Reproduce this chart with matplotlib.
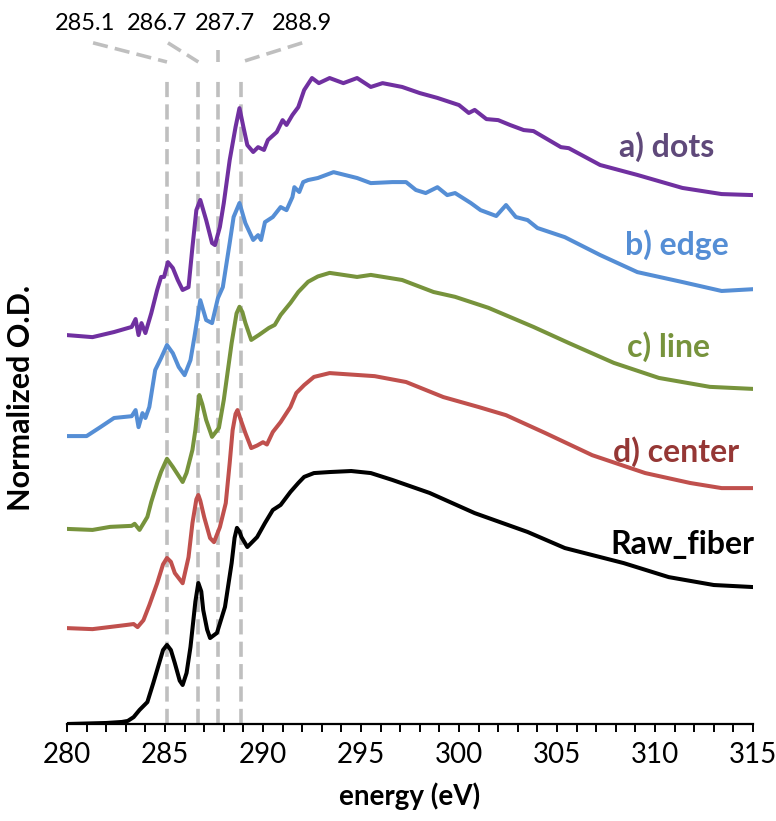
import matplotlib
matplotlib.use("Agg")
import matplotlib.pyplot as plt
from matplotlib.ticker import MultipleLocator

# ---------------- data: C K-edge NEXAFS spectra (normalized O.D.) ----------------
raw_energy = [280.0, 281.0, 282.0, 282.8, 283.1, 283.4, 283.7, 284.1, 284.4, 284.6, 284.9,
              285.1, 285.3, 285.5, 285.75, 285.9, 286.1, 286.3, 286.55, 286.7, 286.85,
              286.95, 287.15, 287.3, 287.65, 288.06, 288.4, 288.55,
              288.67, 288.8, 288.9, 289.2, 289.7, 290.1, 290.5, 290.9, 291.4, 291.8, 292.1,
              292.6, 293.4, 294.5, 295.5, 296.6, 298.5, 300.8, 303.5, 305.4, 308.4,
              310.7, 313.0, 315.0]
raw_od = [0.000, 0.002, 0.004, 0.008, 0.012, 0.027, 0.055, 0.086, 0.160, 0.212, 0.290,
          0.310, 0.290, 0.239, 0.170, 0.153, 0.200, 0.302, 0.480, 0.553, 0.520,
          0.447, 0.370, 0.337, 0.357, 0.459, 0.631, 0.730,
          0.769, 0.755, 0.733, 0.694, 0.733, 0.788, 0.839, 0.859, 0.910, 0.945, 0.969,
          0.984, 0.988, 0.992, 0.984, 0.957, 0.906, 0.827, 0.753, 0.690, 0.631,
          0.576, 0.545, 0.537]

center_energy = [280.0, 281.3, 283.0, 283.4, 283.6, 283.9, 284.2, 284.6, 284.9, 285.1, 285.3,
                 285.5, 285.9, 286.2, 286.4, 286.6, 286.7, 286.8, 287.0, 287.3, 287.5, 287.8,
                 288.1, 288.3, 288.45, 288.6, 288.7, 288.85, 289.1, 289.4, 289.7, 290.0, 290.2,
                 290.5, 290.9, 291.4, 291.7, 292.1, 292.6, 293.4, 295.7, 297.3, 299.2, 301.0,
                 302.4, 304.4, 306.8, 309.5, 311.8, 313.4, 315.0]
center_od = [0.000, -0.004, 0.012, 0.016, 0.004, 0.031, 0.090, 0.176, 0.250, 0.275, 0.260,
             0.216, 0.176, 0.278, 0.412, 0.505, 0.522, 0.500, 0.435, 0.353, 0.337, 0.396,
             0.490, 0.647, 0.776, 0.840, 0.855, 0.820, 0.765, 0.706, 0.716, 0.729, 0.720,
             0.769, 0.808, 0.867, 0.922, 0.953, 0.985, 1.000, 0.988, 0.965, 0.906, 0.867,
             0.835, 0.765, 0.678, 0.608, 0.569, 0.549, 0.549]

line_energy = [280.0, 281.3, 282.2, 283.3, 283.45, 283.7, 284.1, 284.3, 284.6, 284.8,
               285.1, 285.4, 285.9, 286.1, 286.4, 286.55, 286.75, 286.9, 287.1, 287.4, 287.75,
               288.0, 288.4, 288.65, 288.8, 288.95, 289.1, 289.4, 289.8, 290.3, 290.6, 290.9,
               291.4, 291.8, 292.3, 292.8, 293.4, 294.8, 295.5, 297.1, 298.7, 299.8, 301.5,
               303.8, 305.6, 307.9, 310.2, 312.8, 315.0]
line_od = [0.000, -0.004, 0.008, 0.012, 0.020, -0.004, 0.047, 0.106, 0.180, 0.224,
           0.275, 0.243, 0.184, 0.220, 0.310, 0.388, 0.525, 0.490, 0.427, 0.361, 0.396,
           0.506, 0.729, 0.845, 0.871, 0.850, 0.808, 0.741, 0.761, 0.788, 0.800, 0.839,
           0.886, 0.929, 0.969, 0.990, 1.004, 0.988, 0.996, 0.976, 0.929, 0.910, 0.867,
           0.792, 0.729, 0.651, 0.592, 0.557, 0.549]

edge_energy = [280.0, 281.0, 281.7, 282.4, 283.3, 283.5, 283.65, 283.85, 284.0, 284.2,
               284.5, 284.8, 285.1, 285.4, 285.7, 286.0, 286.3, 286.5, 286.8, 287.1,
               287.4, 287.7, 287.95, 288.3, 288.5, 288.8, 289.1, 289.5, 289.75, 289.9,
               290.1, 290.5, 290.9, 291.2, 291.5, 291.6, 291.85, 292.05, 292.3, 292.8,
               293.6, 294.8, 295.5, 296.6, 297.3, 297.8, 298.3, 298.9, 299.4, 299.8,
               300.6, 301.1, 301.9, 302.4, 302.9, 303.5, 304.0, 305.4, 307.2, 309.1,
               311.4, 313.4, 315.0]
edge_od = [0.000, 0.000, 0.035, 0.071, 0.078, 0.102, 0.035, 0.090, 0.071, 0.114,
           0.259, 0.306, 0.357, 0.325, 0.271, 0.239, 0.298, 0.388, 0.533, 0.455,
           0.443, 0.541, 0.584, 0.757, 0.859, 0.914, 0.835, 0.769, 0.788, 0.769,
           0.839, 0.859, 0.898, 0.886, 0.937, 0.976, 0.957, 0.996, 1.004, 1.012,
           1.035, 1.012, 0.992, 0.996, 0.996, 0.965, 0.953, 0.976, 0.945, 0.953,
           0.914, 0.886, 0.863, 0.906, 0.859, 0.847, 0.816, 0.780, 0.710, 0.643,
           0.604, 0.569, 0.576]

dots_energy = [280.0, 281.3, 282.4, 283.3, 283.5, 283.65, 283.8, 284.0, 284.3, 284.6,
               284.8, 284.95, 285.15, 285.4, 285.65, 285.9, 286.2, 286.4, 286.6, 286.8,
               287.1, 287.4, 287.55, 287.8, 288.0, 288.3, 288.6, 288.8, 289.0, 289.2,
               289.5, 289.75, 290.05, 290.25, 290.7, 291.0, 291.2, 291.5, 291.8, 292.1,
               292.5, 292.85, 293.4, 294.1, 294.8, 295.5, 296.1, 297.1, 298.0, 298.9,
               300.0, 300.5, 300.8, 301.4, 302.0, 302.6, 303.3, 303.8, 304.4, 305.2,
               305.6, 307.2, 309.1, 311.4, 313.4, 315.0]
dots_od = [-0.008, -0.016, 0.004, 0.024, 0.055, -0.008, 0.039, 0.000, 0.078, 0.169,
           0.220, 0.220, 0.278, 0.255, 0.208, 0.169, 0.180, 0.337, 0.482, 0.522,
           0.443, 0.353, 0.345, 0.416, 0.510, 0.678, 0.808, 0.882, 0.808, 0.737,
           0.710, 0.729, 0.718, 0.757, 0.788, 0.835, 0.816, 0.855, 0.886, 0.953,
           1.000, 0.980, 1.000, 0.980, 1.000, 0.965, 0.980, 0.965, 0.941, 0.922,
           0.894, 0.863, 0.875, 0.839, 0.835, 0.816, 0.796, 0.792, 0.765, 0.729,
           0.725, 0.659, 0.620, 0.569, 0.545, 0.541]

series_names = ["a) dots", "b) edge", "c) line", "d) center", "Raw_fiber"]
series_energy = [dots_energy, edge_energy, line_energy, center_energy, raw_energy]
series_od = [dots_od, edge_od, line_od, center_od, raw_od]
stack_offsets = [1.533, 1.129, 0.765, 0.376, 0.0]

line_colors = ["#7030A0", "#558ED5", "#77933C", "#C0504D", "#000000"]
label_colors = ["#5F497A", "#558ED5", "#77933C", "#953735", "#000000"]

# characteristic transition energies (eV)
peak_energies = [285.1, 286.7, 287.7, 288.9]
peak_labels = ["285.1", "286.7", "287.7", "288.9"]

# ---------------- figure ----------------
plt.rcParams["font.family"] = ["Lato", "DejaVu Sans"]
fig = plt.figure(figsize=(7.76, 8.21), dpi=100)
ax = fig.add_axes([67 / 776, 97 / 821, 686 / 776, 724 / 821])
ax.set_xlim(280, 315)
ax.set_ylim(0, 2.839)

# guide lines for the transitions, with leaders up to their labels
grey = "#BFBFBF"
label_x = [280.92, 284.59, 288.06, 292.0]
leader_x = [281.33, 285.15, 287.7, 292.0]
leader_y = [2.671, 2.671, 2.643, 2.671]
top_y = 2.576
dash = (4.2, 2.0)
for e, lx, ly, tx, txt in zip(peak_energies, leader_x, leader_y, label_x, peak_labels):
    ax.plot([e, e], [0, top_y - 0.03], color=grey, lw=2.6, dashes=dash,
            dash_capstyle="butt", zorder=1, clip_on=False)
    ax.plot([lx, e], [ly, top_y + 0.02], color=grey, lw=2.6, dashes=dash,
            dash_capstyle="butt", zorder=1, clip_on=False)
    ax.text(tx, 2.745, txt, ha="center", va="center", fontsize=17, color="#000000")

label_pos = [(310.6, 2.265), (311.1, 1.880), (310.7, 1.480), (311.1, 1.067), (311.4, 0.702)]
for name, en, od, off, c, lc, (px, py) in zip(series_names, series_energy, series_od,
                                                 stack_offsets, line_colors, label_colors,
                                                 label_pos):
    ax.plot(en, [v + off for v in od], color=c, lw=2.9, solid_joinstyle="round",
            solid_capstyle="round", zorder=3)
    ax.text(px, py, name, color=lc, fontsize=23, fontweight="bold",
            ha="center", va="center")

# axes styling
for side in ("left", "right", "top"):
    ax.spines[side].set_visible(False)
ax.spines["bottom"].set_linewidth(1.6)
ax.set_yticks([])
ax.xaxis.set_major_locator(MultipleLocator(5))
ax.xaxis.set_minor_locator(MultipleLocator(1))
ax.tick_params(axis="x", which="both", direction="out", length=6, width=1.4,
               labelsize=20, pad=7)
ax.set_xlabel("energy (eV)", fontsize=20, fontweight="bold", labelpad=10)
ax.set_ylabel("Normalized O.D.", fontsize=22, fontweight="bold")
ax.yaxis.set_label_coords(-0.047, 0.45)

fig.savefig("out.png", dpi=100)
